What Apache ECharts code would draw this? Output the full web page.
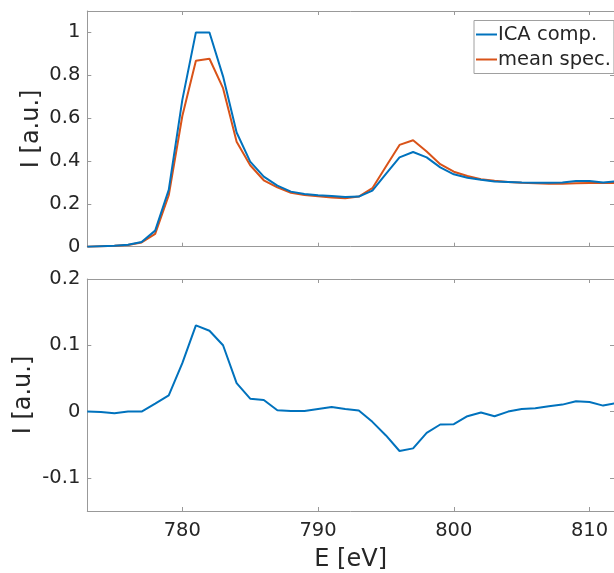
<!DOCTYPE html>
<html>
<head>
<meta charset="utf-8">
<script src="https://cdn.jsdelivr.net/npm/echarts@6/dist/echarts.min.js"></script>
<style>html,body{margin:0;padding:0;background:#fff;}#c{width:614px;height:573px;}</style>
</head>
<body>
<div id="c"></div>
<script>
const energies = [773,774,775,776,777,778,779,780,781,782,783,784,785,786,787,788,789,790,791,792,793,794,795,796,797,798,799,800,801,802,803,804,805,806,807,808,809,810,811,812];
const icaComp = [0.0,0.002,0.004,0.009,0.022,0.075,0.265,0.685,1.0,1.0,0.795,0.533,0.397,0.327,0.285,0.257,0.246,0.240,0.237,0.232,0.234,0.262,0.340,0.417,0.442,0.417,0.370,0.338,0.322,0.312,0.304,0.302,0.300,0.299,0.299,0.300,0.307,0.307,0.300,0.305];
const meanSpec = [0.0,0.002,0.004,0.008,0.020,0.060,0.240,0.610,0.868,0.877,0.740,0.490,0.380,0.310,0.277,0.252,0.241,0.235,0.230,0.226,0.234,0.273,0.374,0.475,0.497,0.444,0.385,0.350,0.330,0.315,0.308,0.302,0.298,0.296,0.294,0.294,0.296,0.297,0.297,0.297];
const difference = [0.0,-0.0005,-0.0025,0.0,0.0,0.012,0.0245,0.073,0.130,0.122,0.100,0.043,0.0195,0.0175,0.002,0.001,0.001,0.004,0.007,0.004,0.0015,-0.0155,-0.036,-0.0595,-0.0555,-0.032,-0.0195,-0.019,-0.007,-0.0015,-0.007,0.0,0.004,0.005,0.008,0.0105,0.0155,0.0145,0.009,0.013];
const xTicks = [780,790,800,810];
const yTicksTop = [0,0.2,0.4,0.6,0.8,1];
const yTicksBottom = [-0.1,0,0.1,0.2];
const seriesNames = ['ICA comp.','mean spec.'];
const xName = 'E [eV]';
const yName = 'I [a.u.]';

const FONT = 'DejaVu Sans';
const TXT = '#262626';
const AX = '#999999';
const BLUE = '#0072BD', ORANGE = '#D95319';
const XMIN = 773, XMAX = 811.8;

function pairs(xs, ys){ return xs.map((x,i)=>[x, ys[i]]); }

function xAx(gridIndex, position, showLabels){
  return {
    type:'value', gridIndex, position, min:XMIN, max:XMAX,
    axisLine:{show:true, onZero:false, lineStyle:{color:AX, width:1}},
    axisTick:{show:true, inside:true, length:4, lineStyle:{color:AX}, customValues:xTicks},
    axisLabel:{show:showLabels, customValues:xTicks, fontFamily:FONT, fontSize:19.5, color:TXT, margin:10},
    splitLine:{show:false},
    name: (showLabels ? xName : ''), nameLocation:'middle', nameGap:37, nameMoveOverlap:false,
    nameTextStyle:{fontFamily:FONT, fontSize:24, color:TXT}
  };
}
function yAx(gridIndex, position, min, max, ticks, showLabels, gap){
  return {
    type:'value', gridIndex, position, min, max,
    axisLine:{show:true, onZero:false, lineStyle:{color:AX, width:1}},
    axisTick:{show:true, inside:true, length:4, lineStyle:{color:AX}, customValues:ticks},
    axisLabel:{show:showLabels, customValues:ticks, fontFamily:FONT, fontSize:19.5, color:TXT, margin:7},
    splitLine:{show:false},
    name: (showLabels ? yName : ''), nameLocation:'middle', nameRotate:90, nameGap:gap, nameMoveOverlap:false,
    nameTextStyle:{fontFamily:FONT, fontSize:24, color:TXT}
  };
}

const chart = echarts.init(document.getElementById('c'), null, {renderer:'canvas'});
chart.setOption({
  backgroundColor:'#fff',
  animation:false,
  grid:[
    {left:87.3, top:11, width:530, height:235.7},
    {left:87.3, top:279, width:530, height:234.3}
  ],
  xAxis:[ xAx(0,'bottom',false), xAx(0,'top',false), xAx(1,'bottom',true), xAx(1,'top',false) ],
  yAxis:[
    yAx(0,'left',0,1.1,yTicksTop,true,44),
    yAx(0,'right',0,1.1,yTicksTop,false,0),
    yAx(1,'left',-0.15,0.2,yTicksBottom,true,52),
    yAx(1,'right',-0.15,0.2,yTicksBottom,false,0)
  ],
  legend:{
    show:true, data:seriesNames, orient:'vertical', left:474, top:20.5,
    icon:'rect', itemWidth:21, itemHeight:2, itemGap:3,
    padding:[3,3,3,2],
    borderColor:'#a0a0a0', borderWidth:1, backgroundColor:'#fff',
    textStyle:{fontFamily:FONT, fontSize:19.5, color:TXT, lineHeight:22, padding:[0,0,0,-4]}
  },
  series:[
    {name:seriesNames[0], type:'line', xAxisIndex:0, yAxisIndex:0, data:pairs(energies, icaComp), symbol:'none', lineStyle:{color:BLUE, width:2}, itemStyle:{color:BLUE}, z:3},
    {name:seriesNames[1], type:'line', xAxisIndex:0, yAxisIndex:0, data:pairs(energies, meanSpec), symbol:'none', lineStyle:{color:ORANGE, width:2}, itemStyle:{color:ORANGE}, z:2},
    {name:'diff', type:'line', xAxisIndex:2, yAxisIndex:2, data:pairs(energies, difference), symbol:'none', lineStyle:{color:BLUE, width:2}, itemStyle:{color:BLUE}}
  ]
});
</script>
</body>
</html>
